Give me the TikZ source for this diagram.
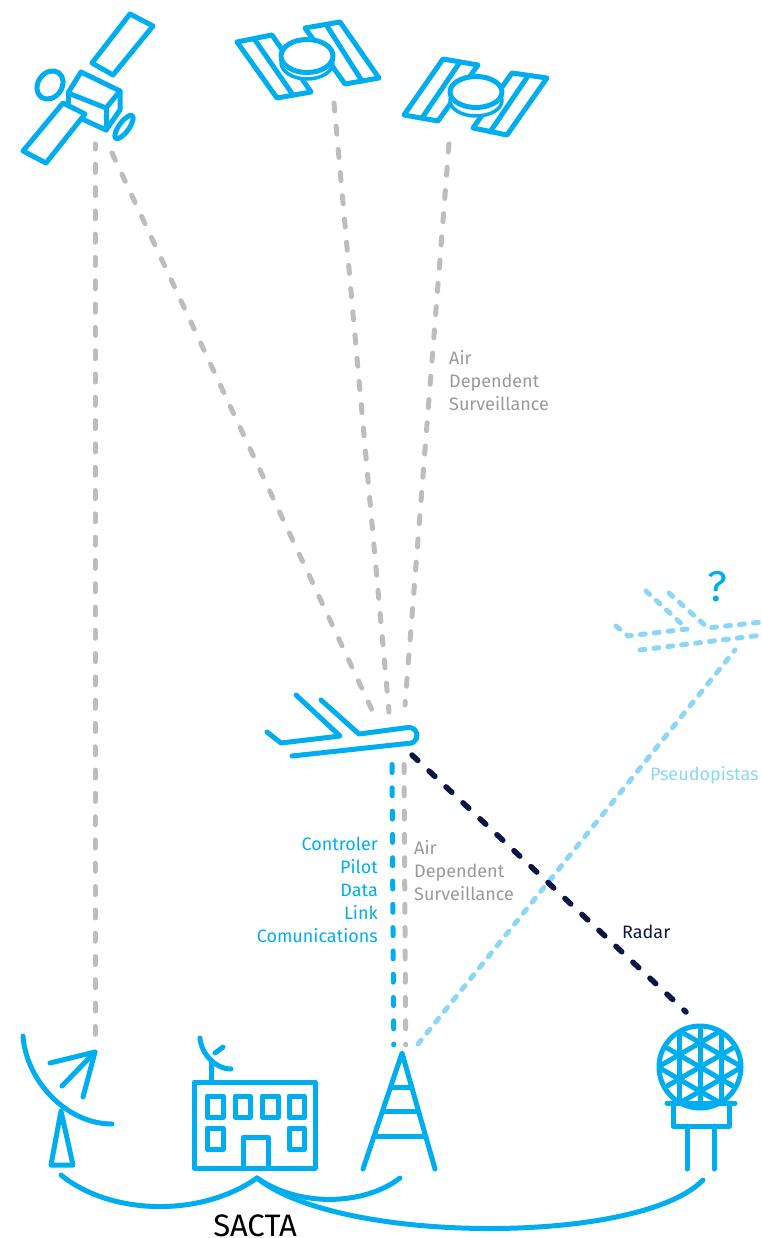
\documentclass[tikz,border=0pt]{standalone}
\usepackage{fontspec}
\setmainfont{Fira Sans}
\usetikzlibrary{calc}
\definecolor{skyb}{HTML}{00AEEF}
\definecolor{paleb}{HTML}{8CD6F7}
\definecolor{dashg}{HTML}{BDBDBD}
\definecolor{textg}{HTML}{999999}
\definecolor{navyb}{HTML}{0B1648}
\tikzset{
 icon/.style={draw=skyb,line width=5pt,line join=round,line cap=round},
 thinicon/.style={icon,line width=5pt},
 grayd/.style={draw=dashg,line width=5pt,line cap=round,dash pattern=on 8pt off 15.3pt},
 blued/.style={draw=skyb,line width=5pt,line cap=round,dash pattern=on 8pt off 15.3pt},
 paled/.style={draw=paleb,line width=5pt,line cap=round,dash pattern=on 5pt off 9pt},
 navyd/.style={draw=navyb,line width=5.5pt,line cap=round,dash pattern=on 8pt off 15.3pt},
 lbl/.style={inner sep=0pt,font=\fontsize{18}{23}\selectfont},
}
\begin{document}
\begin{tikzpicture}[x=1pt,y=-1pt]
\useasboundingbox (0,0) rectangle (762,1238);
% connector ends
\coordinate (dishTop) at (95,1034.3);
\coordinate (satA1) at (95,144);
\coordinate (satA2) at (112,153);
\coordinate (planeA) at (372,710);
\coordinate (satB) at (334,103);
\coordinate (planeB) at (389,712);
\coordinate (satC) at (449,144);
\coordinate (planeC) at (405,705);
\coordinate (planeD1) at (392,764.5);
\coordinate (towerD1) at (393.7,1044.8);
\coordinate (planeD2) at (404,764.5);
\coordinate (towerD2) at (405.7,1044.8);
\coordinate (towerP) at (418,1044);
\coordinate (ghostP) at (735,650);
\coordinate (planeR) at (412,755);
\coordinate (radarR) at (686,1012);
% dashed connectors
\draw[grayd,dash phase=3pt] (satA1) -- (dishTop);
\draw[grayd] (satA2) -- (planeA);
\draw[grayd] (satB) -- (planeB);
\draw[grayd] (satC) -- (planeC);
\draw[blued] (planeD1) -- (towerD1);
\draw[grayd] (planeD2) -- (towerD2);
\draw[paled] (towerP) -- (ghostP);
\draw[navyd] (planeR) -- (radarR);
% satellite 1
\draw[icon] (130,14) -- (153,26) -- (113,75) -- (92,63) -- cycle;
\draw[icon] (81,72) -- (120,91) -- (106,108) -- (68,93) -- cycle;
\draw[icon] (68,93) -- (68,103);
\draw[icon] (82,119) -- (106,130) -- (120,110) -- (120,91);
\draw[icon] (106,108) -- (106,130);
\draw[icon] (63,103) -- (85,114) -- (46,163) -- (23,151) -- cycle;
\draw[icon] (50,85) ellipse[x radius=15,y radius=12,rotate=55];
\draw[icon] (124,127) ellipse[x radius=14,y radius=5,rotate=54];
% satellite 2
\draw[icon] (272,35) -- (237,42) -- (277,98) -- (311,92) -- cycle;
\draw[icon] (255,40) -- (293,95);
\draw[icon] (305,28) -- (340,22) -- (379,78) -- (345,84) -- cycle;
\draw[icon] (327,26) -- (362,81);
\draw[icon,fill=white,line width=3.5pt] (307,62.5) ellipse[x radius=26,y radius=16.5];
\draw[icon,fill=white] (307,56) ellipse[x radius=26,y radius=16.5];
% satellite 3
\draw[icon] (443,59) -- (478,65) -- (438,121) -- (404,115) -- cycle;
\draw[icon] (460,62) -- (422,118);
\draw[icon] (512,73) -- (547,78) -- (507,135) -- (473,128) -- cycle;
\draw[icon] (528,76) -- (490,132);
\draw[icon,fill=white,line width=3.5pt] (476,100.5) ellipse[x radius=26,y radius=15.5];
\draw[icon,fill=white] (476,92) ellipse[x radius=26,y radius=15.5];
% aircraft
\draw[icon] (267,732) -- (281,743) -- (340,736) -- (296,695);
\draw[icon] (321,700) -- (359,734) -- (408,727.5) arc[start angle=-97,end angle=97,radius=8] -- (292,756);
% ghost aircraft
\draw[paled] (616,626) -- (628,636) -- (687,629) -- (645,590);
\draw[paled] (669,593) -- (708,628) -- (762,622);
\draw[paled] (640,650) -- (762,635);
\node[inner sep=0pt,text=skyb,font=\fontsize{43}{43}\selectfont] (qmark) at (717,587) {?};
% dish
\draw[icon] (23,1036) .. controls (26,1080) and (66,1124) .. (112,1124);
\draw[icon] (50,1063) -- (95,1052) -- (83,1097);
\draw[icon] (62,1086) -- (95,1052);
\draw[icon] (61,1111) -- (51,1165) -- (73,1165) -- cycle;
% building
\draw[icon] (194,1082) rectangle (315,1168);
\foreach \xa/\xb in {207/223,235/250,262/278,289/304}
  \draw[icon] (\xa,1096) rectangle (\xb,1117);
\foreach \xa/\xb in {207/223,289/304}
  \draw[icon] (\xa,1128) rectangle (\xb,1149);
\draw[icon] (243,1168) -- (243,1137) -- (268,1137) -- (268,1168);
\draw[icon] (211,1060) -- (211,1082);
\draw[icon] (200,1038) .. controls (201,1053) and (215,1069) .. (231,1069);
\draw[icon] (215,1053) -- (223,1047);
% tower
\coordinate (apex) at (402,1053);
\coordinate (footL) at (363,1169);
\coordinate (footR) at (435,1169);
\draw[icon] (footL) -- (apex) -- (footR);
\foreach \t in {0.293,0.5,0.716}
  \draw[thinicon] ($(apex)!\t!(footL)$) -- ($(apex)!\t!(footR)$);
% radar
\begin{scope}
\clip (700,1067) circle[radius=41];
\clip (650,1020) rectangle (750,1103);
\foreach \xx in {679,700,721}
  \draw[thinicon] (\xx,1020) -- (\xx,1110);
\foreach \k in {-4,...,4}{
  \draw[thinicon] (640,{1067-34.64+\k*24.25}) -- (760,{1067+34.64+\k*24.25});
  \draw[thinicon] (640,{1067+34.64+\k*24.25}) -- (760,{1067-34.64+\k*24.25});
}
\end{scope}
\draw[icon] (700,1067) circle[radius=41];
\draw[icon] (667,1103) -- (735,1103);
\draw[icon] (673,1103) -- (673,1126) -- (729,1126) -- (729,1103);
\draw[icon] (687,1126) -- (687,1169);
\draw[icon] (714,1126) -- (714,1169);
% links
\coordinate (hub) at (257,1178);
\draw[icon] (61,1175) .. controls (110,1215) and (200,1218) .. (hub);
\draw[icon] (hub) .. controls (300,1208) and (365,1205) .. (400,1178);
\draw[icon] (hub) .. controls (340,1245) and (640,1245) .. (703,1180);
% labels
\node[lbl,text=textg,anchor=west,align=left] (adsTop) at (449,381) {Air\\Dependent\\Surveillance};
\node[lbl,text=textg,anchor=west,align=left] (adsLow) at (414,871) {Air\\Dependent\\Surveillance};
\node[lbl,text=skyb,anchor=east,align=right] (cpdlc) at (378,890) {Controler\\Pilot\\Data\\Link\\Comunications};
\node[lbl,text=paleb,anchor=west] (pseudo) at (650,775) {Pseudopistas};
\node[lbl,text=navyb,anchor=west] (radar) at (622,932) {Radar};
\node[inner sep=0pt,text=black,font=\fontsize{31}{32}\selectfont] (sacta) at (255,1225.5) {SACTA};
\end{tikzpicture}
\end{document}
